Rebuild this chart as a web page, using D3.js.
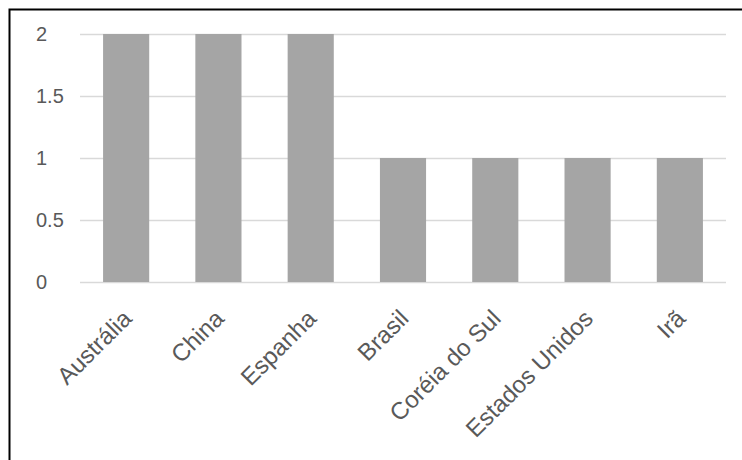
<!DOCTYPE html>
<html>
<head>
<meta charset="utf-8">
<script src="https://cdn.jsdelivr.net/npm/d3@7.9.0/dist/d3.min.js"></script>
<style>
  html, body { margin: 0; padding: 0; background: #fff; }
  svg { display: block; font-family: "Liberation Sans", Arial, sans-serif; }
</style>
</head>
<body>
<svg id="chart" width="742" height="460"></svg>
<script>
// --- Data ---
const countries = ['Austrália', 'China', 'Espanha', 'Brasil', 'Coréia do Sul', 'Estados Unidos', 'Irã'];
const counts = [2, 2, 2, 1, 1, 1, 1];
const yTicks = [0, 0.5, 1, 1.5, 2];

const svg = d3.select('#chart');

// outer frame (right/bottom edges fall outside the picture)
svg.append('rect')
   .attr('x', 9.5).attr('y', 9.5)
   .attr('width', 760).attr('height', 480)
   .attr('fill', '#fff')
   .attr('stroke', '#000')
   .attr('stroke-width', 2);

const x = d3.scaleBand().domain(countries).range([80, 726]).paddingInner(0.5).paddingOuter(0.25);
const y = d3.scaleLinear().domain([0, 2]).range([282, 34]);

// gridlines
svg.append('g')
   .selectAll('line')
   .data(yTicks)
   .join('line')
   .attr('x1', 80).attr('x2', 726)
   .attr('y1', d => Math.round(y(d)) + 0.5)
   .attr('y2', d => Math.round(y(d)) + 0.5)
   .attr('stroke', '#d9d9d9')
   .attr('stroke-width', 1.5);

// y labels
svg.append('g')
   .selectAll('text')
   .data(yTicks)
   .join('text')
   .attr('x', 36)
   .attr('y', d => y(d) + 7)
   .attr('fill', '#595959')
   .attr('font-size', 20)
   .text(d => d);

// bars
svg.append('g')
   .selectAll('rect')
   .data(counts)
   .join('rect')
   .attr('x', (d, i) => x(countries[i]))
   .attr('y', d => y(d))
   .attr('width', x.bandwidth())
   .attr('height', d => y(0) - y(d))
   .attr('fill', '#a5a5a5');

// x labels
svg.append('g')
   .selectAll('text')
   .data(countries)
   .join('text')
   .attr('transform', d => `translate(${x(d) + x.bandwidth() / 2 + 7},${320}) rotate(-45)`)
   .attr('text-anchor', 'end')
   .attr('fill', '#595959')
   .attr('font-size', 24)
   .text(d => d);
</script>
</body>
</html>
